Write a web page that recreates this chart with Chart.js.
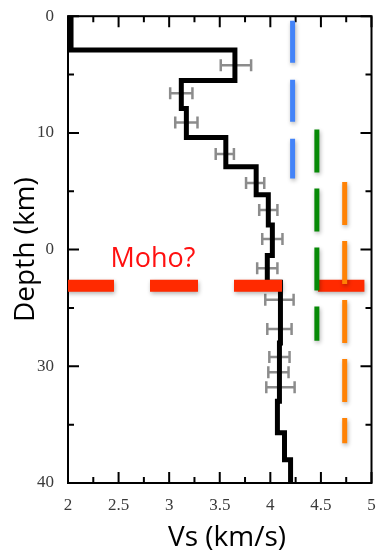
<!DOCTYPE html>
<html>
<head>
<meta charset="utf-8">
<script src="https://cdn.jsdelivr.net/npm/chart.js@4.4.1/dist/chart.umd.min.js"></script>
<style>
  html, body { margin: 0; padding: 0; background: #fff; }
  canvas { display: block; }
</style>
</head>
<body>
<canvas id="perfil" width="380" height="558"></canvas>
<script>
// perfil de velocidade (camadas): limites em km e Vs de cada camada em km/s
var layerDepths = [0, 2.9, 5.5, 7.9, 10.4, 12.9, 15.3, 17.9, 20.5, 22.8, 28, 33, 35.7, 38, 40];
var layerVs = [2.03, 3.65, 3.12, 3.17, 3.56, 3.86, 3.98, 4.02, 3.97, 4.10, 4.09, 4.07, 4.14, 4.20];

// barras de erro (cinza)
var errDepth = [4.2, 6.6, 9.1, 11.8, 14.3, 16.6, 19.1, 21.6, 24.3, 26.8, 29.2, 30.5, 31.8];
var errVs = [3.66, 3.12, 3.17, 3.55, 3.85, 3.98, 4.02, 3.97, 4.09, 4.09, 4.09, 4.08, 4.10];
var errHalf = [0.15, 0.11, 0.11, 0.09, 0.09, 0.09, 0.10, 0.10, 0.14, 0.12, 0.10, 0.10, 0.14];

// linhas verticais tracejadas (azul, verde, laranja)
var refVs = [4.22, 4.46, 4.735];
var refTop = [0.4, 9.7, 14.2];
var refBottom = [13.9, 27.8, 36.6];

// Moho
var mohoDepth = 23.1;
var mohoVs = [1.98, 4.93];

var xTickValues = [2, 2.5, 3, 3.5, 4, 4.5, 5];
var xTickLabels = ['2', '2.5', '3', '3.5', '4', '4.5', '5'];
var yTickValues = [0, 10, 20, 30, 40];
var yTickLabels = ['0', '10', '0', '30', '40'];

var profilePts = [];
for (var i = 0; i < layerVs.length; i++) {
  profilePts.push({x: layerVs[i], y: layerDepths[i]});
  profilePts.push({x: layerVs[i], y: layerDepths[i + 1]});
}

var errPts = [], capPts = [];
for (var i = 0; i < errVs.length; i++) {
  var lo = errVs[i] - errHalf[i], hi = errVs[i] + errHalf[i];
  errPts.push({x: lo, y: errDepth[i]}, {x: hi, y: errDepth[i]}, {x: NaN, y: NaN});
  capPts.push({x: lo, y: errDepth[i]}, {x: hi, y: errDepth[i]});
}

var refColors = ['#4383f8', '#078a07', '#ff8205'];
var refDash = [[42, 17], [43, 16], [43, 16]];

var datasets = [];
for (var i = 0; i < refVs.length; i++) {
  datasets.push({
    data: [{x: refVs[i], y: refTop[i]}, {x: refVs[i], y: refBottom[i]}],
    showLine: true, borderColor: refColors[i], borderWidth: 5,
    borderDash: refDash[i], borderCapStyle: 'butt', pointRadius: 0, order: 0, sombra: true
  });
}
datasets.push({
  data: [{x: mohoVs[0], y: mohoDepth}, {x: mohoVs[1], y: mohoDepth}],
  showLine: true, borderColor: '#ff2a00', borderWidth: 12,
  borderDash: [48, 36], borderCapStyle: 'butt', pointRadius: 0, order: 1, sombra: true
});
datasets.push({
  data: profilePts,
  showLine: true, borderColor: '#000', borderWidth: 5,
  borderJoinStyle: 'miter', borderCapStyle: 'butt', pointRadius: 0, order: 2
});
datasets.push({
  data: capPts,
  showLine: false, pointStyle: 'line', rotation: 90, pointRadius: 6,
  borderColor: '#8c8c8c', pointBorderColor: '#8c8c8c', pointBorderWidth: 2.5, order: 3
});
datasets.push({
  data: errPts,
  showLine: true, spanGaps: false, borderColor: '#8c8c8c', borderWidth: 2.5,
  pointRadius: 0, order: 4
});

var serif = "'Liberation Serif', 'Times New Roman', serif";

// moldura com marcas para dentro
var moldura = {
  id: 'moldura',
  beforeDatasetsDraw: function(chart) {
    var ctx = chart.ctx, a = chart.chartArea, sx = chart.scales.x, sy = chart.scales.y;
    ctx.save();
    ctx.strokeStyle = '#000';
    ctx.lineWidth = 2;
    ctx.strokeRect(a.left, a.top, a.right - a.left, a.bottom - a.top);
    ctx.beginPath();
    sx.ticks.forEach(function(t) {
      var px = sx.getPixelForValue(t.value);
      var len = xTickValues.indexOf(t.value) >= 0 ? 11 : 6;
      ctx.moveTo(px, a.bottom); ctx.lineTo(px, a.bottom - len);
      ctx.moveTo(px, a.top); ctx.lineTo(px, a.top + len);
    });
    sy.ticks.forEach(function(t) {
      var py = sy.getPixelForValue(t.value);
      var len = yTickValues.indexOf(t.value) >= 0 ? 11 : 6;
      ctx.moveTo(a.left, py); ctx.lineTo(a.left + len, py);
      ctx.moveTo(a.right, py); ctx.lineTo(a.right - len, py);
    });
    ctx.stroke();
    ctx.restore();
  },
  afterDatasetsDraw: function(chart) {
    var ctx = chart.ctx, sx = chart.scales.x, sy = chart.scales.y;
    ctx.save();
    ctx.fillStyle = '#ff1010';
    ctx.font = '27px "Open Sans"';
    ctx.textAlign = 'left';
    ctx.textBaseline = 'alphabetic';
    ctx.fillText('Moho?', sx.getPixelForValue(2.42), sy.getPixelForValue(21.5));
    ctx.restore();
  }
};

var sombra = {
  id: 'sombra',
  beforeDatasetDraw: function(chart, args) {
    if (!chart.data.datasets[args.index].sombra) return;
    var ctx = chart.ctx;
    ctx.save();
    ctx.shadowColor = 'rgba(0,0,0,0.3)';
    ctx.shadowBlur = 4;
    ctx.shadowOffsetX = 1;
    ctx.shadowOffsetY = 2;
  },
  afterDatasetDraw: function(chart, args) {
    if (!chart.data.datasets[args.index].sombra) return;
    chart.ctx.restore();
  }
};

var ctx = document.getElementById('perfil').getContext('2d');

var perfil = new Chart(ctx, {
  type: 'scatter',
  data: { datasets: datasets },
  options: {
    responsive: false,
    animation: false,
    layout: { padding: { top: 12, right: 7, left: 0, bottom: 0 } },
    plugins: { legend: { display: false }, tooltip: { enabled: false } },
    scales: {
      x: {
        type: 'linear', min: 2, max: 5, position: 'bottom',
        grid: { display: false }, border: { display: false },
        ticks: {
          stepSize: 0.25, autoSkip: false, maxRotation: 0, padding: 4,
          color: '#3a3a3a', font: { family: serif, size: 17 },
          callback: function(v) { var k = xTickValues.indexOf(v); return k >= 0 ? xTickLabels[k] : ''; }
        },
        title: {
          display: true, text: '  Vs (km/s)', color: '#000',
          font: { family: 'Open Sans', size: 28 }, padding: { top: 0, bottom: 3 }
        },
        afterFit: function(s) { s.height = 75; }
      },
      y: {
        type: 'linear', min: 0, max: 40, reverse: true,
        grid: { display: false }, border: { display: false },
        ticks: {
          stepSize: 5, autoSkip: false, padding: 6,
          color: '#3a3a3a', font: { family: serif, size: 17 },
          callback: function(v) { var k = yTickValues.indexOf(v); return k >= 0 ? yTickLabels[k] : ''; }
        },
        title: {
          display: true, text: 'Depth (km)', color: '#000',
          font: { family: 'Open Sans', size: 28 }, padding: { top: 9, bottom: 0 }
        },
        afterFit: function(s) { s.width = 68; }
      }
    }
  },
  plugins: [moldura, sombra]
});
</script>
</body>
</html>
